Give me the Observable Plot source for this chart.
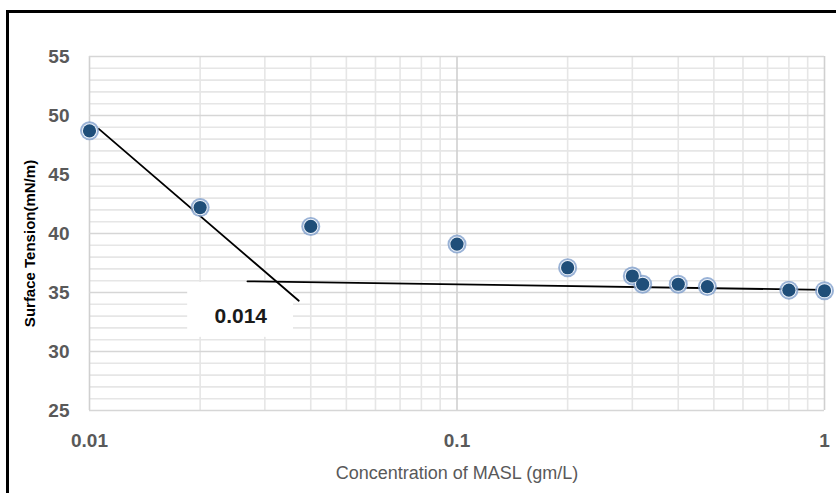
<!DOCTYPE html>
<html><head><meta charset="utf-8">
<script src="https://cdn.jsdelivr.net/npm/d3@7"></script>
<script src="https://cdn.jsdelivr.net/npm/@observablehq/plot@0.6"></script>
<style>
body{margin:0;background:#fff;}
#wrap{position:relative;width:836px;height:493px;overflow:hidden;background:#fff;}
#border{position:absolute;left:6px;top:10px;right:-10px;bottom:-10px;border-top:3px solid #000;border-left:3px solid #000;pointer-events:none;}
g[aria-label="x-axis label"] text{font-size:18px;font-weight:normal;fill:#595959;}
g[aria-label="x-axis tick label"] text, g[aria-label="y-axis tick label"] text{font-size:19px;font-weight:bold;fill:#595959;}
</style></head><body><div id="wrap"><div id="chart"></div><div id="border"></div></div>
<script>
// Measured data (concentration in gm/L, surface tension in mN/m)
const concentration = [0.01, 0.02, 0.04, 0.1, 0.2, 0.3, 0.32, 0.4, 0.48, 0.8, 1.0];
const tension = [48.7, 42.2, 40.6, 39.1, 37.1, 36.4, 35.7, 35.7, 35.5, 35.2, 35.15];

// Fitted trend lines (two segments whose intersection marks the CMC)
const trendSteepX = [0.0106, 0.0371];
const trendSteepY = [48.87, 34.3];
const trendFlatX = [0.0269, 1.0];
const trendFlatY = [35.95, 35.22];

// CMC annotation
const cmcLabel = "0.014";
const cmcBoxX = [0.0185, 0.0359];
const cmcBoxY = [31.2, 35.85];
const cmcTextX = 0.0258;
const cmcTextY = 33.0;

// Tick values
const xMajorTicks = [0.01, 0.1, 1];
const xMinorTicks = [0.02,0.03,0.04,0.05,0.06,0.07,0.08,0.09,0.2,0.3,0.4,0.5,0.6,0.7,0.8,0.9];
const yMajorTicks = [25, 30, 35, 40, 45, 50, 55];
const yMinorTicks = d3.range(25, 56).filter(v => v % 5 !== 0);

const xTitle = "Concentration of MASL (gm/L)";
const yTitle = "Surface Tension(mN/m)";

const pts = concentration.map((c, i) => ({c, t: tension[i]}));
const steep = trendSteepX.map((x, i) => ({x, y: trendSteepY[i]}));
const flat = trendFlatX.map((x, i) => ({x, y: trendFlatY[i]}));

const chart = Plot.plot({
  width: 836,
  height: 493,
  marginTop: 56,
  marginRight: 12,
  marginBottom: 83,
  marginLeft: 89,
  style: {fontFamily: "Liberation Sans, Arial, sans-serif", background: "#fff"},
  x: {type: "log", domain: [0.01, 1]},
  y: {domain: [25, 55]},
  marks: [
    Plot.gridX(xMinorTicks, {stroke: "#e6e6e6", strokeOpacity: 1, strokeWidth: 1.6}),
    Plot.gridY(yMinorTicks, {stroke: "#e6e6e6", strokeOpacity: 1, strokeWidth: 1.6}),
    Plot.gridX(xMajorTicks, {stroke: "#d0d0d0", strokeOpacity: 1, strokeWidth: 1.6}),
    Plot.gridY(yMajorTicks, {stroke: "#d6d6d6", strokeOpacity: 1, strokeWidth: 1.6}),
    Plot.rect([{}], {x1: () => cmcBoxX[0], x2: () => cmcBoxX[1], y1: () => cmcBoxY[0], y2: () => cmcBoxY[1], fill: "#fff"}),
    Plot.axisX({ticks: xMajorTicks, tickFormat: d => String(d), tickSize: 0, tickPadding: 23, fontSize: 19, fontWeight: "bold", fill: "#595959",
      label: xTitle, labelAnchor: "center", labelOffset: 68, labelArrow: "none"}),
    Plot.axisY({ticks: yMajorTicks, tickSize: 0, tickPadding: 20, fontSize: 19, fontWeight: "bold", fill: "#595959", label: null}),
    Plot.text([yTitle], {frameAnchor: "left", textAnchor: "middle", rotate: -90, dx: -59, dy: 10, text: d => d, fontSize: 15, fontWeight: "bold", fill: "#000"}),
    Plot.line(steep, {x: "x", y: "y", stroke: "#000", strokeWidth: 1.8}),
    Plot.line(flat, {x: "x", y: "y", stroke: "#000", strokeWidth: 1.8}),
    Plot.dot(pts, {x: "c", y: "t", r: 9.5, fill: "#7f9fcc", fillOpacity: 0.8, stroke: "none"}),
    Plot.dot(pts, {x: "c", y: "t", r: 7.6, fill: "#eef3fa", stroke: "none"}),
    Plot.dot(pts, {x: "c", y: "t", r: 6.6, fill: "#1f4e79", stroke: "none"}),
    Plot.text([cmcLabel], {x: () => cmcTextX, y: () => cmcTextY, text: d => d, fontSize: 21, fontWeight: "bold", fill: "#1a1a1a"})
  ]
});
document.getElementById("chart").appendChild(chart);
</script>
</body></html>
